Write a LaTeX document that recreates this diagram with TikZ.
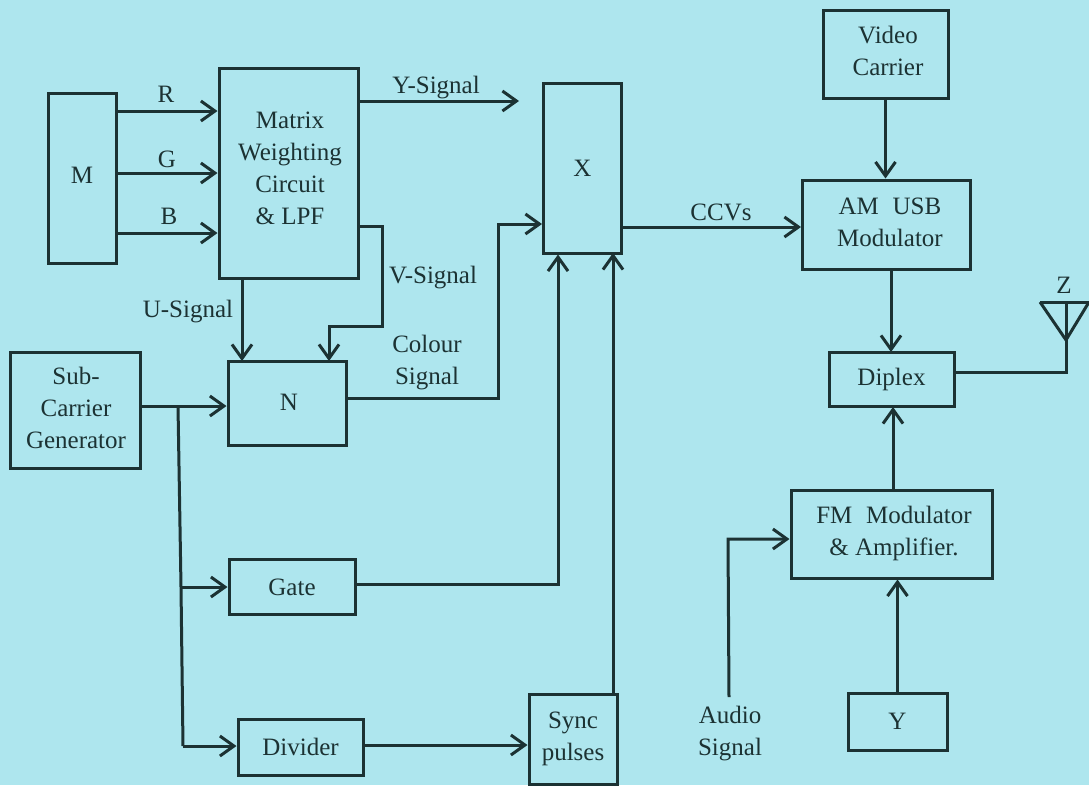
\documentclass[tikz,border=0pt]{standalone}
\usepackage{fontspec}
\setmainfont{Liberation Serif}
\usetikzlibrary{arrows.meta, positioning}
\definecolor{paper}{HTML}{AEE6EE}
\definecolor{ink}{HTML}{1C3233}
\tikzset{
  x=1pt, y=-1pt,
  block/.style={draw=ink, line width=3pt, inner sep=0pt, align=center, text=ink, font=\fontsize{25}{32}\selectfont},
  label/.style={inner sep=0pt, align=center, text=ink, font=\fontsize{25}{32}\selectfont},
  link/.style={draw=ink, line width=3pt},
  head/.style={link, -{Straight Barb[length=14pt,width=20pt,line width=3pt]}},
}

\begin{document}
\begin{tikzpicture}
    \fill[paper] (0,0) rectangle (1089,785);
    \useasboundingbox (0,0) rectangle (1089,785);

    % left column
    \node[block, minimum width=68pt, minimum height=170pt] (m) at (82,178) {};
    \node[block, minimum width=139pt, minimum height=210pt] (matrix) at (288.5,173) {};
    \node[block, minimum width=130pt, minimum height=116pt] (sub) at (75.5,410) {};
    \node[block, minimum width=118pt, minimum height=84pt] (n) at (287,403) {};
    \node[block, minimum width=126pt, minimum height=55pt] (gate) at (292,587) {Gate};
    \node[block, minimum width=125pt, minimum height=56pt] (divider) at (300.5,747) {Divider};

    % middle column
    \node[block, minimum width=78pt, minimum height=170pt] (x) at (582.5,168) {X};
    \node[block, minimum width=88pt, minimum height=90pt] (sync) at (573,739) {};

    % right column
    \node[block, minimum width=125pt, minimum height=88pt] (video) at (885.5,54) {};
    \node[block, minimum width=168pt, minimum height=89pt] (am) at (886.5,224.5) {};
    \node[block, minimum width=125pt, minimum height=54pt] (diplex) at (891.5,379.5) {Diplex};
    \node[block, minimum width=201pt, minimum height=88pt] (fm) at (891.5,534) {};
    \node[block, minimum width=99pt, minimum height=57pt] (y) at (897.5,721.5) {Y};

    % texts
    \node[label] (mtext) at (82,175) {M};
    \node[label] (ntext) at (289,402) {N};
    \node[label] (subtext) at (76,408) {Sub-\\Carrier\\Generator};
    \node[label] (synctext) at (573,739) {Sync\\pulses};
    \node[label] (matrixtext) at (290,168) {Matrix\\Weighting\\Circuit\\\& LPF};
    \node[label] (videotext) at (888,51) {Video\\Carrier};
    \node[label] (amtext) at (890,222.5) {AM\hspace{.3em} USB\\Modulator};
    \node[label] (fmtext) at (894,533) {FM\hspace{.3em} Modulator\\\& Amplifier.};
    \node[label] (r) at (166,94) {R};
    \node[label] (g) at (167,159) {G};
    \node[label] (b) at (169,216) {B};
    \node[label] (ysig) at (436,88) {Y-Signal};
    \node[label] (usig) at (188,312) {U-Signal};
    \node[label] (vsig) at (433,278) {V-Signal};
    \node[label] (colour) at (427,363) {Colour\\Signal};
    \node[label] (ccvs) at (721,212) {CCVs};
    \node[label] (audio) at (730,734) {Audio\\Signal};
    \node[label] (z) at (1064,285) {Z};

    % free ends and corners
    \coordinate (yend) at (519,101);
    \coordinate (vturn) at (382,226);
    \coordinate (vdown) at (382,326);
    \coordinate (vin) at (329,361);
    \coordinate (uin) at (242,361);
    \coordinate (branch) at (178,406);
    \coordinate (gatejoin) at (181,587);
    \coordinate (stemfoot) at (183,746);
    \coordinate (colourturn) at (498,398);
    \coordinate (colourtop) at (498,224);
    \coordinate (gateturn) at (558,584);
    \coordinate (audiotop) at (728,539);
    \coordinate (audiostart) at (729,697);
    \coordinate (apex) at (1066,340);
    \coordinate (mast) at (1066,302);
    \coordinate (ant) at (1066,372);
    \coordinate (antl) at (1040,302);
    \coordinate (antr) at (1089,302);

    % connectors
    \draw[head] (m.east |- 0,111) -- (matrix.west |- 0,111);
    \draw[head] (m.east |- 0,173) -- (matrix.west |- 0,173);
    \draw[head] (m.east |- 0,233) -- (matrix.west |- 0,233);
    \draw[head] (matrix.east |- yend) -- (yend);
    \draw[head] (uin |- matrix.south) -- (uin);
    \draw[head] (matrix.east |- vturn) -- (vturn) -- (vdown) -- (vin |- vdown) -- (vin);
    \draw[head] (sub.east |- branch) -- (n.west |- branch);
    \draw[link] (branch) -- (gatejoin) -- (stemfoot);
    \draw[head] (gatejoin) -- (gate.west |- gatejoin);
    \draw[head] (stemfoot) -- (divider.west |- stemfoot);
    \draw[head] (n.east |- colourturn) -- (colourturn) -- (colourtop) -- (x.west |- colourtop);
    \draw[head] (gate.east |- gateturn) -- (gateturn) -- (gateturn |- x.south);
    \draw[head] (divider.east |- 0,745) -- (sync.west |- 0,745);
    \draw[head] (613,694) -- (613,253);
    \draw[head] (x.east |- 0,227) -- (am.west |- 0,227);
    \draw[head] (video.south) -- (video.south |- am.north);
    \draw[head] (891,269) -- (891,352);
    \draw[head] (893,490) -- (893,407);
    \draw[head] (audiostart) -- (audiotop) -- (fm.west |- audiotop);
    \draw[head] (y.north) -- (y.north |- fm.south);
    \draw[link] (diplex.east |- ant) -- (ant) -- (mast);
    \draw[link] (antl) -- (antr);
    \draw[link] (antl) -- (apex) -- (antr);
\end{tikzpicture}
\end{document}
